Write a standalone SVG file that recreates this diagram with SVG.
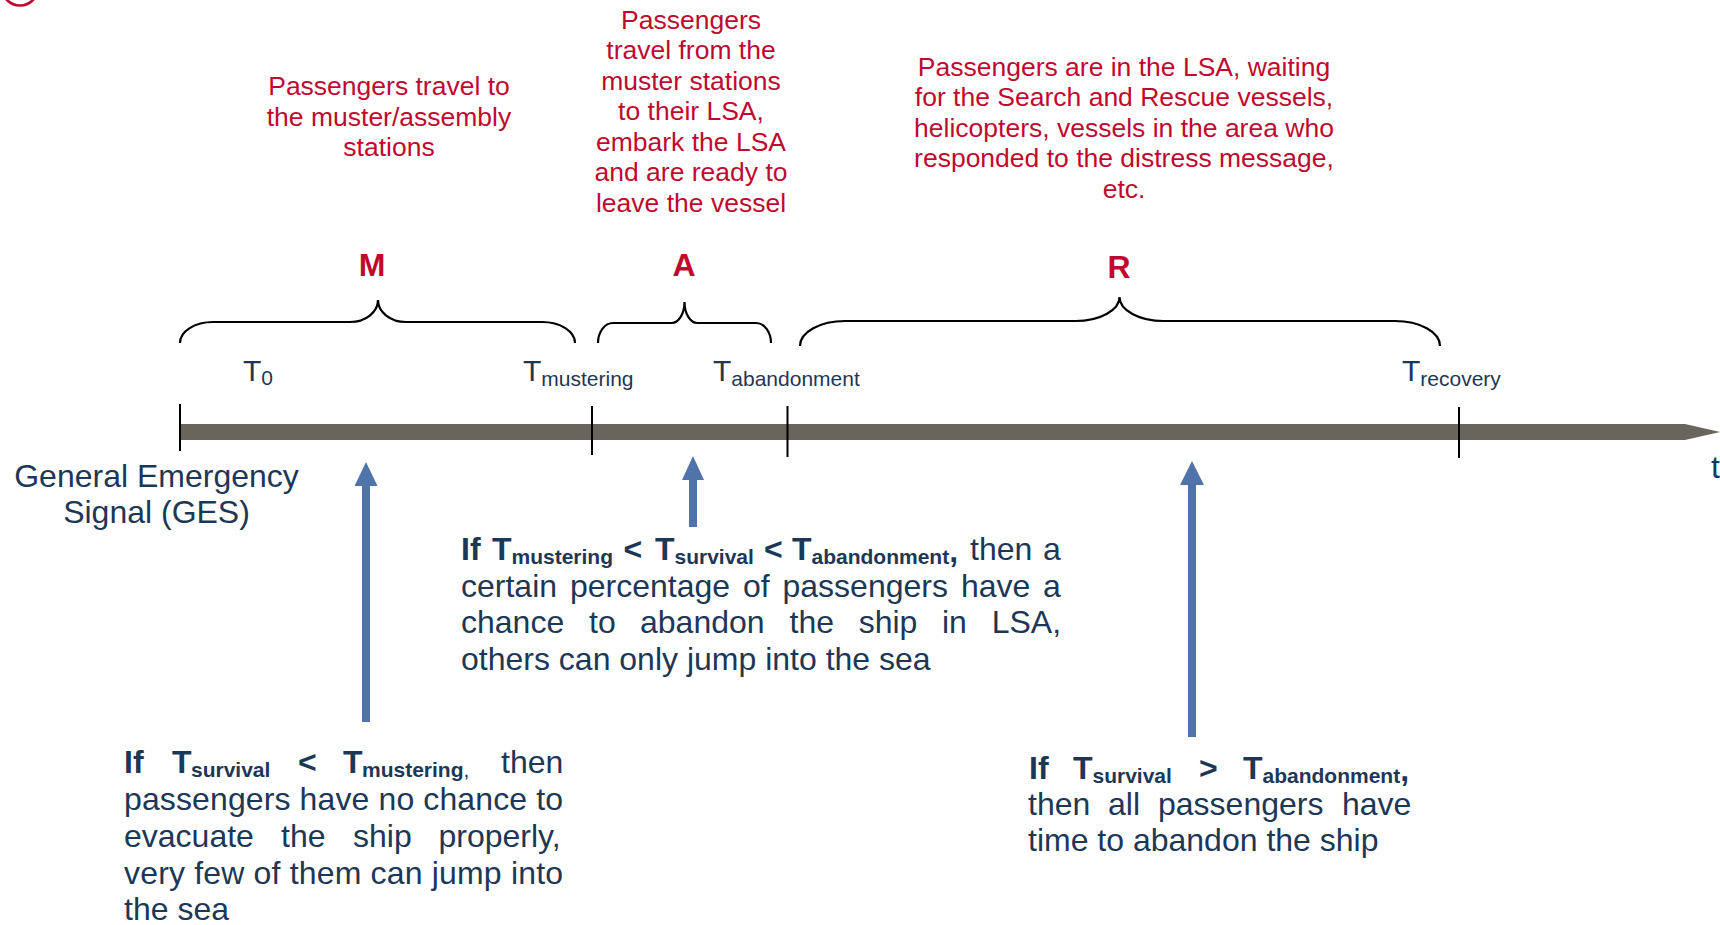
<svg xmlns="http://www.w3.org/2000/svg" width="1720" height="925" viewBox="0 0 1720 925">
<style>
text{font-family:"Liberation Sans",Arial,Helvetica,sans-serif}
.red{fill:#bf0a30;font-size:26.5px;text-anchor:middle}
.phase{fill:#bf0a30;font-size:32px;font-weight:bold;text-anchor:middle}
.navy{fill:#1d3756;font-size:32px}
.b{font-weight:bold}
.sub{font-size:21px}
.T{font-size:30px}
.brace{fill:none;stroke:#000;stroke-width:2.2}
.tick{stroke:#000;stroke-width:2}
.arrow{fill:#5074a9}
</style>
<rect width="1720" height="925" fill="#fff"/>
<circle cx="20" cy="-12.5" r="18" fill="none" stroke="#bf0a30" stroke-width="2.7"/>

<g id="timeline">
<polygon points="180,424 1685,424 1720,432 1685,440 180,440" fill="#68655c"/>
<line class="tick" x1="180" y1="404" x2="180" y2="451"/>
<line class="tick" x1="592" y1="406" x2="592" y2="455"/>
<line class="tick" x1="787.5" y1="406" x2="787.5" y2="457"/>
<line class="tick" x1="1459" y1="407" x2="1459" y2="458"/>
<text class="navy" x="1711" y="478">t</text>
</g>

<g id="time-labels">
<text class="navy" x="243" y="381"><tspan class="T">T</tspan><tspan class="sub" y="385">0</tspan></text>
<text class="navy" x="523" y="381"><tspan class="T">T</tspan><tspan class="sub" y="386">mustering</tspan></text>
<text class="navy" x="713" y="381"><tspan class="T">T</tspan><tspan class="sub" y="386">abandonment</tspan></text>
<text class="navy" x="1402" y="381"><tspan class="T">T</tspan><tspan class="sub" y="386">recovery</tspan></text>
</g>

<g id="ges">
<text class="navy" text-anchor="middle" x="156.5" y="487">General Emergency</text>
<text class="navy" text-anchor="middle" x="156.5" y="523">Signal (GES)</text>
</g>

<g id="phase-M">
<text class="red" x="389"><tspan x="389" y="95">Passengers travel to</tspan><tspan x="389" y="125.5">the muster/assembly</tspan><tspan x="389" y="156">stations</tspan></text>
<text class="phase" x="372" y="276">M</text>
<path class="brace" d="M180 343 C180 331.4 194.8 322 213 322 L350 322 C365.5 322 378 312.1 378 300 C378 312.1 390.5 322 406 322 L542 322 C560.2 322 575 331.4 575 343"/>
</g>

<g id="phase-A">
<text class="red"><tspan x="691" y="28.5">Passengers</tspan><tspan x="691" y="59">travel from the</tspan><tspan x="691" y="89.5">muster stations</tspan><tspan x="691" y="120">to their LSA,</tspan><tspan x="691" y="150.5">embark the LSA</tspan><tspan x="691" y="181">and are ready to</tspan><tspan x="691" y="211.5">leave the vessel</tspan></text>
<text class="phase" x="684" y="276">A</text>
<path class="brace" d="M598 343 C598 332 604.7 323 613 323 L671.5 323 C678.7 323 684.5 313.6 684.5 302 C684.5 313.6 690.3 323 697.5 323 L756 323 C764.3 323 771 332 771 343"/>
</g>

<g id="phase-R">
<text class="red"><tspan x="1124" y="75.5">Passengers are in the LSA, waiting</tspan><tspan x="1124" y="106">for the Search and Rescue vessels,</tspan><tspan x="1124" y="136.5">helicopters, vessels in the area who</tspan><tspan x="1124" y="167">responded to the distress message,</tspan><tspan x="1124" y="197.5">etc.</tspan></text>
<text class="phase" x="1119" y="278">R</text>
<path class="brace" d="M800 346 C800 332.2 820.2 321 845 321 L1075.5 321 C1099.8 321 1119.5 310.2 1119.5 297 C1119.5 310.2 1139.2 321 1163.5 321 L1395 321 C1419.8 321 1440 332.2 1440 346"/>
</g>

<g id="connectors">
<rect class="arrow" x="362" y="483" width="8" height="239"/>
<polygon class="arrow" points="354.5,486 366,462 377.5,486"/>
<rect class="arrow" x="689" y="477" width="8" height="50"/>
<polygon class="arrow" points="682,480 693,456 704,480"/>
<rect class="arrow" x="1188" y="482" width="8" height="255"/>
<polygon class="arrow" points="1180,485 1192,461 1204,485"/>
</g>

<g id="case-left">
<text class="navy"><tspan class="b" x="124" y="773">If</tspan><tspan class="b" x="172" y="773">T</tspan><tspan class="b sub" x="191" y="777">survival</tspan><tspan class="b" x="298" y="773">&lt;</tspan><tspan class="b" x="343" y="773">T</tspan><tspan class="b sub" x="362" y="777">mustering</tspan><tspan class="sub" y="777">,</tspan><tspan x="501" y="773">then</tspan></text>
<text class="navy" x="124" y="810" textLength="439" lengthAdjust="spacing">passengers have no chance to</text>
<text class="navy"><tspan x="124" y="847">evacuate</tspan><tspan x="281" y="847">the</tspan><tspan x="353" y="847">ship</tspan><tspan x="438.5" y="847">properly,</tspan></text>
<text class="navy" x="124" y="884" textLength="439" lengthAdjust="spacing">very few of them can jump into</text>
<text class="navy" x="124" y="920">the sea</text>
</g>

<g id="case-middle">
<text class="navy"><tspan class="b" x="461" y="560">If</tspan><tspan class="b" x="492" y="560">T</tspan><tspan class="b sub" x="511.5" y="564">mustering</tspan><tspan class="b" x="623.5" y="560">&lt;</tspan><tspan class="b" x="655" y="560">T</tspan><tspan class="b sub" x="674.5" y="564">survival</tspan><tspan class="b" x="764" y="560">&lt;</tspan><tspan class="b" x="792" y="560">T</tspan><tspan class="b sub" x="811.5" y="564">abandonment</tspan><tspan class="b" y="562">,</tspan><tspan x="970" y="560">then</tspan><tspan x="1043" y="560">a</tspan></text>
<text class="navy"><tspan x="461" y="597">certain</tspan><tspan x="570" y="597">percentage</tspan><tspan x="743" y="597">of</tspan><tspan x="782.5" y="597">passengers</tspan><tspan x="961" y="597">have</tspan><tspan x="1043" y="597">a</tspan></text>
<text class="navy"><tspan x="461" y="633">chance</tspan><tspan x="589" y="633">to</tspan><tspan x="640" y="633">abandon</tspan><tspan x="789.5" y="633">the</tspan><tspan x="858.7" y="633">ship</tspan><tspan x="942" y="633">in</tspan><tspan x="991.7" y="633">LSA,</tspan></text>
<text class="navy" x="461" y="670">others can only jump into the sea</text>
</g>

<g id="case-right">
<text class="navy"><tspan class="b" x="1029" y="779">If</tspan><tspan class="b" x="1073" y="779">T</tspan><tspan class="b sub" x="1092.5" y="783">survival</tspan><tspan class="b" x="1199" y="779">&gt;</tspan><tspan class="b" x="1243" y="779">T</tspan><tspan class="b sub" x="1262.5" y="783">abandonment</tspan><tspan class="b" y="781">,</tspan></text>
<text class="navy"><tspan x="1028" y="815">then</tspan><tspan x="1108" y="815">all</tspan><tspan x="1158" y="815">passengers</tspan><tspan x="1342" y="815">have</tspan></text>
<text class="navy" x="1028" y="851">time to abandon the ship</text>
</g>
</svg>
